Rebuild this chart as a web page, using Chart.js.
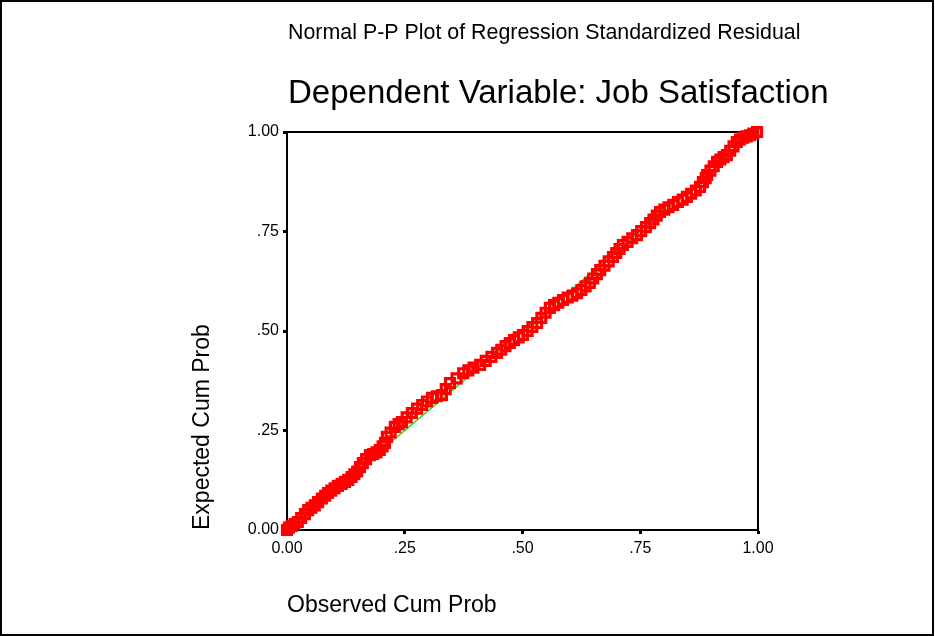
<!DOCTYPE html>
<html>
<head>
<meta charset="utf-8">
<script src="https://cdn.jsdelivr.net/npm/chart.js@4.4.1/dist/chart.umd.min.js"></script>
<style>
  html, body { margin: 0; padding: 0; background: #fff; }
  #wrap { width: 935px; height: 636px; position: relative; }
</style>
</head>
<body>
<div id="wrap"><canvas id="ppChart" width="935" height="636"></canvas></div>
<script>
// observed cumulative probability (x) and expected cumulative probability (y)
var obsCum = [0.000, 0.004, 0.010, 0.016, 0.023, 0.030, 0.038, 0.045, 0.052, 0.059,
    0.066, 0.074, 0.081, 0.087, 0.094, 0.101, 0.108, 0.116, 0.123, 0.130,
    0.137, 0.143, 0.149, 0.155, 0.161, 0.168, 0.176, 0.183, 0.190, 0.197,
    0.203, 0.208, 0.212, 0.220, 0.229, 0.237, 0.244, 0.254, 0.265, 0.276,
    0.287, 0.297, 0.308, 0.318, 0.329, 0.337, 0.346, 0.360, 0.374, 0.385,
    0.396, 0.410, 0.422, 0.434, 0.446, 0.455, 0.464, 0.473, 0.482, 0.492,
    0.501, 0.511, 0.521, 0.531, 0.540, 0.549, 0.558, 0.567, 0.576, 0.586,
    0.596, 0.606, 0.616, 0.625, 0.634, 0.643, 0.650, 0.658, 0.665, 0.674,
    0.683, 0.692, 0.699, 0.706, 0.713, 0.723, 0.733, 0.743, 0.752, 0.762,
    0.771, 0.778, 0.785, 0.792, 0.801, 0.810, 0.820, 0.830, 0.840, 0.849,
    0.858, 0.868, 0.877, 0.883, 0.889, 0.892, 0.899, 0.906, 0.913, 0.920,
    0.927, 0.934, 0.941, 0.948, 0.955, 0.962, 0.969, 0.976, 0.983, 0.990, 0.998];
var expCum = [0.000, 0.006, 0.010, 0.015, 0.020, 0.030, 0.040, 0.050, 0.056, 0.062,
    0.070, 0.079, 0.086, 0.093, 0.099, 0.105, 0.111, 0.116, 0.121, 0.126,
    0.133, 0.140, 0.147, 0.158, 0.168, 0.178, 0.188, 0.191, 0.195, 0.201,
    0.210, 0.219, 0.234, 0.245, 0.259, 0.266, 0.271, 0.283, 0.294, 0.305,
    0.314, 0.323, 0.332, 0.336, 0.339, 0.354, 0.369, 0.381, 0.394, 0.401,
    0.408, 0.415, 0.425, 0.435, 0.445, 0.453, 0.462, 0.470, 0.477, 0.484,
    0.490, 0.500, 0.510, 0.520, 0.533, 0.546, 0.558, 0.565, 0.571, 0.578,
    0.584, 0.589, 0.595, 0.603, 0.612, 0.621, 0.632, 0.643, 0.653, 0.664,
    0.675, 0.686, 0.696, 0.706, 0.716, 0.724, 0.733, 0.741, 0.751, 0.761,
    0.771, 0.780, 0.790, 0.799, 0.805, 0.811, 0.817, 0.824, 0.830, 0.837,
    0.845, 0.853, 0.862, 0.874, 0.884, 0.892, 0.903, 0.914, 0.925, 0.931,
    0.937, 0.942, 0.953, 0.964, 0.975, 0.981, 0.986, 0.989, 0.992, 0.996, 1.000];

// diagonal reference line
var refX = [0, 1];
var refY = [0, 1];

var tickValues = [0, 0.25, 0.5, 0.75, 1];
var tickLabels = ['0.00', '.25', '.50', '.75', '1.00'];

var titleText = 'Normal P-P Plot of Regression Standardized Residual';
var subtitleText = 'Dependent Variable: Job Satisfaction';
var xTitle = 'Observed Cum Prob';
var yTitle = 'Expected Cum Prob';

var FONT = "'Liberation Sans', Arial, sans-serif";

function toXY(xs, ys) {
    return xs.map(function (x, i) { return { x: x, y: ys[i] }; });
}

function fmtTick(value) {
    var idx = tickValues.indexOf(value);
    return idx >= 0 ? tickLabels[idx] : '';
}

// frame around the picture, box around the plot area and the two heading lines
var framePlugin = {
    id: 'frame',
    beforeDatasetsDraw: function (chart) {
        var ctx = chart.ctx, a = chart.chartArea;
        ctx.save();
        ctx.strokeStyle = '#000';
        ctx.lineWidth = 2;
        ctx.strokeRect(a.left, a.top, a.right - a.left, a.bottom - a.top);
        ctx.restore();
    },
    afterDraw: function (chart) {
        var ctx = chart.ctx, a = chart.chartArea;
        ctx.save();
        ctx.strokeStyle = '#000';
        ctx.lineWidth = 2;
        ctx.strokeRect(1, 1, chart.width - 3, chart.height - 2);
        // headings start at the plot's left edge
        ctx.fillStyle = '#000';
        ctx.textAlign = 'left';
        ctx.textBaseline = 'middle';
        ctx.font = '21.4px ' + FONT;
        ctx.fillText(titleText, a.left + 1, 33);
        ctx.font = '33px ' + FONT;
        ctx.fillText(subtitleText, a.left + 1, 94);
        ctx.restore();
    }
};

var ctx = document.getElementById('ppChart').getContext('2d');

new Chart(ctx, {
    type: 'scatter',
    data: {
        datasets: [{
            label: 'Residuals',
            data: toXY(obsCum, expCum),
            pointStyle: 'rect',
            pointRadius: 6.3,
            pointBorderWidth: 3.2,
            pointBorderColor: '#ff0000',
            pointBackgroundColor: 'rgba(0,0,0,0)',
            clip: false
        }, {
            label: 'Reference',
            data: toXY(refX, refY),
            showLine: true,
            borderColor: '#22e622',
            borderWidth: 1.6,
            pointRadius: 0
        }]
    },
    options: {
        responsive: false,
        animation: false,
        events: [],
        layout: { padding: { top: 132, left: 0, right: 177, bottom: 0 } },
        plugins: {
            legend: { display: false },
            tooltip: { enabled: false },
            title: { display: false }
        },
        scales: {
            x: {
                type: 'linear',
                min: 0,
                max: 1,
                afterFit: function (scale) { scale.height = 106; },
                afterBuildTicks: function (scale) {
                    scale.ticks = tickValues.map(function (v) { return { value: v }; });
                },
                border: { color: '#000', width: 2 },
                grid: { drawOnChartArea: false, drawTicks: true, tickLength: 4, tickWidth: 3, tickColor: '#000' },
                ticks: {
                    color: '#000',
                    padding: 5,
                    maxRotation: 0,
                    font: { family: FONT, size: 16 },
                    callback: fmtTick
                },
                title: {
                    display: true,
                    text: xTitle,
                    align: 'start',
                    color: '#000',
                    font: { family: FONT, size: 23 },
                    padding: { top: 0, bottom: 17 }
                }
            },
            y: {
                type: 'linear',
                min: 0,
                max: 1,
                afterFit: function (scale) { scale.width = 287; },
                afterBuildTicks: function (scale) {
                    scale.ticks = tickValues.map(function (v) { return { value: v }; });
                },
                border: { color: '#000', width: 2 },
                grid: { drawOnChartArea: false, drawTicks: true, tickLength: 4, tickWidth: 3, tickColor: '#000' },
                ticks: {
                    color: '#000',
                    padding: 4,
                    font: { family: FONT, size: 16 },
                    callback: fmtTick
                },
                title: {
                    display: true,
                    text: yTitle,
                    align: 'start',
                    color: '#000',
                    font: { family: FONT, size: 23 },
                    padding: { top: 189, bottom: 0 }
                }
            }
        }
    },
    plugins: [framePlugin]
});
</script>
</body>
</html>
